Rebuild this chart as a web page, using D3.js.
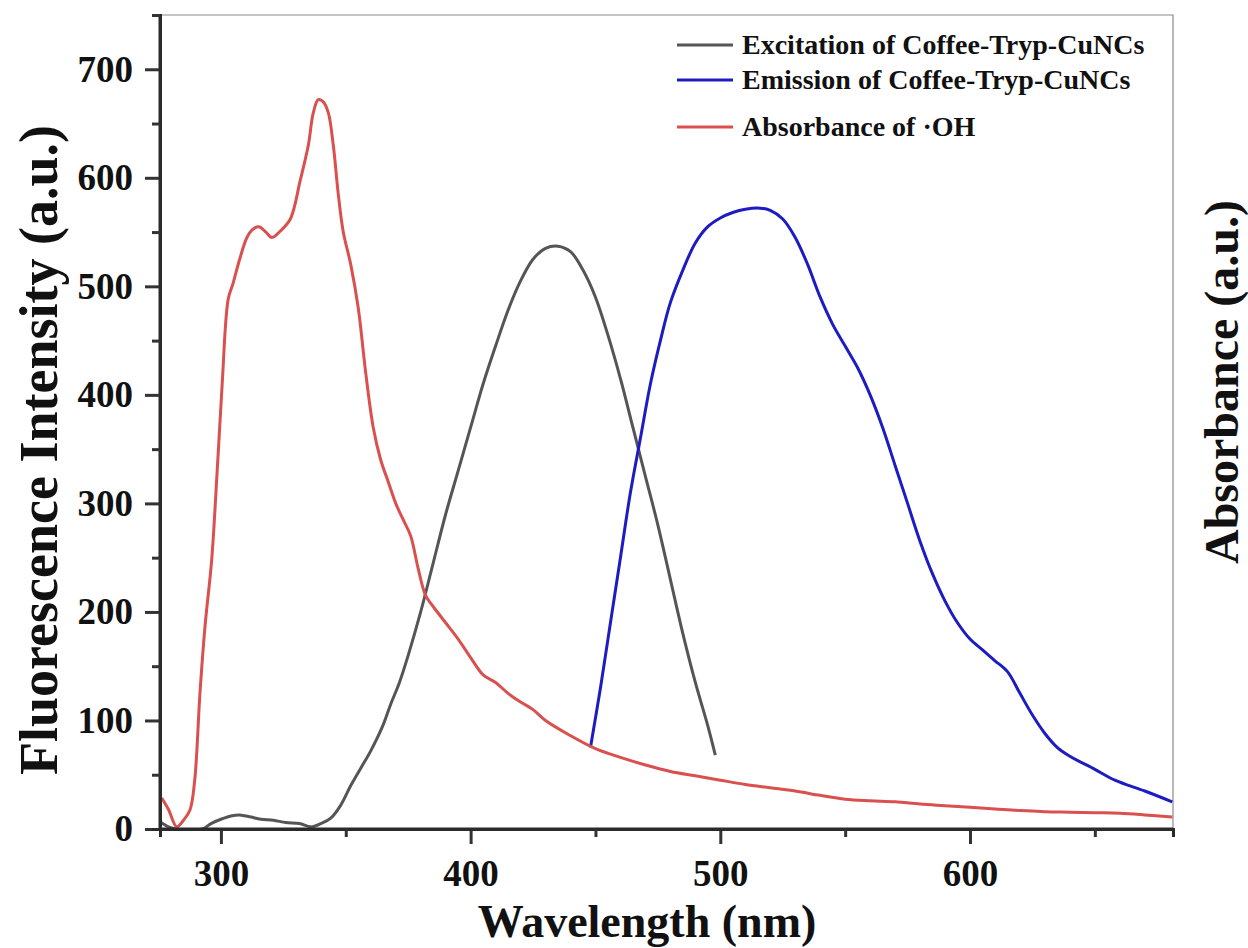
<!DOCTYPE html>
<html>
<head>
<meta charset="utf-8">
<script src="https://cdn.jsdelivr.net/npm/d3@7"></script>
<style>
  body { margin: 0; background: #fff; }
  svg text { font-family: "Liberation Serif", "Times New Roman", serif; font-weight: bold; fill: #111; }
</style>
</head>
<body>
<svg id="chart" width="1248" height="948"></svg>
<script>
// wavelength (nm) / value pairs
var excitation = [
    [276, 6], [279, 2], [282, 0], [292.5, 0], [296, 5], [300, 9], [304, 12], [307.5, 13], [312, 11],
    [316, 9], [321, 8], [326, 6], [331.5, 5], [336, 2], [340, 5], [344, 10], [348, 22],
    [352, 40], [356, 56], [360, 72], [364.8, 95], [368, 115], [371.5, 135], [375, 160], [380, 200],
    [385, 245], [390, 290], [395, 330], [400, 370], [405, 410], [410, 445], [415, 478], [420, 505],
    [425, 525], [430, 535], [435, 537], [440, 532], [445, 515], [450, 490], [455, 455], [460, 415],
    [465, 370], [470, 325], [475, 280], [480, 230], [485, 180], [490, 135], [495, 95], [498, 68]
];
var emission = [
    [448, 75], [452, 130], [456, 190], [460, 250], [464, 310], [468, 360], [472, 410], [476, 450],
    [480, 485], [485, 515], [490, 540], [495, 555], [500, 563], [505, 568], [510, 571], [516, 572],
    [520, 570], [525, 562], [530, 545], [535, 520], [540, 490], [545, 465], [550, 445], [555, 425],
    [560, 400], [565, 370], [570, 335], [575, 300], [580, 265], [585, 235], [590, 210], [595, 190],
    [600, 175], [605, 165], [610, 155], [615, 145], [620, 125], [625, 105], [630, 88], [635, 75],
    [640, 67], [650, 55], [658, 45], [670, 35], [681, 25]
];
var absorbance = [
    [276.3, 28.6], [279, 18], [282.3, 2], [285, 8], [287.6, 17.5], [289.5, 45], [291.6, 125],
    [293.6, 186], [296.3, 248], [298.5, 330], [300.5, 410], [302.9, 488], [304.9, 503],
    [307.5, 525], [310.4, 545], [312.5, 552], [315.1, 555], [318, 550], [320.4, 545],
    [323.8, 551], [327.8, 562], [331.8, 598], [335, 630], [337, 660], [339, 672], [341, 670],
    [343, 660], [345, 630], [347, 585], [349, 550], [352, 520], [355, 480], [358, 420],
    [361, 370], [364, 340], [367, 320], [370, 300], [373, 285], [376, 270], [379, 240],
    [382, 215], [385, 205], [390, 190], [395, 175], [400, 158], [405, 142], [410, 135],
    [415, 125], [420, 117], [425, 110], [430, 100], [440, 86], [450, 74], [460, 66],
    [470, 59], [480, 53], [490, 49], [500, 45], [510, 41], [520, 38], [530, 35], [540, 31],
    [550, 27.5], [560, 26], [570, 25], [580, 23], [590, 21.5], [600, 20], [610, 18.5],
    [620, 17], [630, 16], [640, 15.5], [650, 15], [660, 14.5], [670, 13], [681, 11]
];

var xTicks = [300, 400, 500, 600],
    xMinor = [350, 450, 550, 650],
    yTicks = [0, 100, 200, 300, 400, 500, 600, 700],
    yMinor = [50, 150, 250, 350, 450, 550, 650, 750];

var series = [
    { name: "Excitation of Coffee-Tryp-CuNCs", values: excitation, color: "#555555" },
    { name: "Emission of Coffee-Tryp-CuNCs", values: emission, color: "#1c1cc2" },
    { name: "Absorbance of \u00b7OH", values: absorbance, color: "#d9504f" }
];

var svg = d3.select("#chart"),
    plotLeft = 160, plotRight = 1173, plotTop = 15, plotBottom = 829;

var x = d3.scaleLinear().domain([275.6, 681.3]).range([plotLeft, plotRight]),
    y = d3.scaleLinear().domain([0, 750]).range([plotBottom, plotTop]);

svg.append("defs").append("clipPath")
    .attr("id", "plot-clip")
    .append("rect")
    .attr("x", plotLeft).attr("y", plotTop)
    .attr("width", plotRight - plotLeft).attr("height", plotBottom - plotTop);

// frame: thin grey top and right
svg.append("path")
    .attr("d", "M" + (plotLeft - 8) + "," + plotTop + "H" + plotRight + "V" + plotBottom)
    .attr("fill", "none")
    .attr("stroke", "#8a8a8a")
    .attr("stroke-width", 1.2);

var line = d3.line()
    .x(function(d) { return x(d[0]); })
    .y(function(d) { return y(d[1]); })
    .curve(d3.curveCatmullRom.alpha(0.5));

svg.append("g")
    .attr("clip-path", "url(#plot-clip)")
    .selectAll("path")
    .data(series)
    .enter()
    .append("path")
    .attr("d", function(d) { return line(d.values); })
    .attr("fill", "none")
    .attr("stroke", function(d) { return d.color; })
    .attr("stroke-width", 3)
    .attr("stroke-linejoin", "round");

// axes
var xAxis = svg.append("g")
    .attr("transform", "translate(0," + plotBottom + ")")
    .call(d3.axisBottom(x).tickValues(xTicks).tickSize(15).tickPadding(16));
svg.append("g")
    .attr("transform", "translate(0," + plotBottom + ")")
    .call(d3.axisBottom(x).tickValues(xMinor).tickSize(8).tickFormat(""));

var yAxis = svg.append("g")
    .attr("transform", "translate(" + plotLeft + ",0)")
    .call(d3.axisLeft(y).tickValues(yTicks).tickSize(15).tickPadding(12));
svg.append("g")
    .attr("transform", "translate(" + plotLeft + ",0)")
    .call(d3.axisLeft(y).tickValues(yMinor).tickSize(8).tickFormat(""));

svg.selectAll(".domain").attr("stroke", "#2a2a2a").attr("stroke-width", 3);
svg.selectAll(".tick line").attr("stroke", "#333").attr("stroke-width", 3);
svg.selectAll(".tick text")
    .style("font-family", "'Liberation Serif', serif")
    .style("font-weight", "bold")
    .style("font-size", "37px")
    .attr("fill", "#111");
xAxis.selectAll(".domain").attr("d", "M" + plotLeft + ",0H" + plotRight);
yAxis.selectAll(".domain").attr("d", "M0," + plotBottom + "V" + plotTop);

// titles
svg.append("text")
    .attr("x", 647).attr("y", 937)
    .attr("text-anchor", "middle")
    .style("font-size", "46px")
    .text("Wavelength (nm)");

svg.append("text")
    .attr("transform", "translate(57,450) rotate(-90)")
    .attr("text-anchor", "middle")
    .style("font-size", "54px")
    .text("Fluorescence Intensity (a.u.)");

svg.append("text")
    .attr("transform", "translate(1238,382) rotate(-90)")
    .attr("text-anchor", "middle")
    .style("font-size", "48px")
    .text("Absorbance (a.u.)");

// legend
var legendY = [45, 80, 127];
var legend = svg.selectAll(".legend")
    .data(series)
    .enter()
    .append("g")
    .attr("class", "legend")
    .attr("transform", function(d, i) { return "translate(677," + legendY[i] + ")"; });

legend.append("line")
    .attr("x1", 0).attr("x2", 56)
    .attr("stroke", function(d) { return d.color; })
    .attr("stroke-width", 3);

legend.append("text")
    .attr("x", 65).attr("y", 9)
    .style("font-size", "28px")
    .text(function(d) { return d.name; });
</script>
</body>
</html>
